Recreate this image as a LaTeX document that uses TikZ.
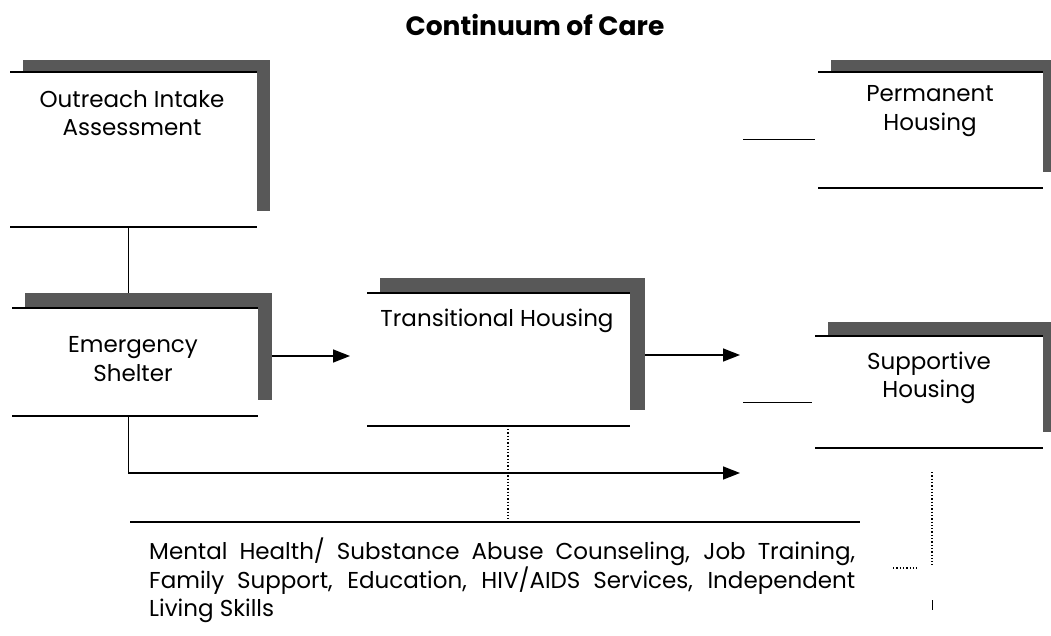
\documentclass[tikz,border=0pt]{standalone}
\usepackage{fontspec}
\setmainfont{Poppins}
\usetikzlibrary{arrows.meta}
\definecolor{shadow}{RGB}{88,88,88}
\tikzset{
  band/.style={fill=shadow},
  rule/.style={line width=1.4pt, black},
  conn/.style={line width=1pt, black},
  arr/.style={line width=1.6pt, -{Triangle[length=17pt,width=13pt]}},
  dots/.style={line width=1.3pt, dotted},
  lbl/.style={font=\fontsize{23}{28.5}\selectfont, align=center, inner sep=0},
  area/.style={inner sep=0, outer sep=0, anchor=north west},
}
% #1 name, #2 left x, #3 top of band, #4 right of band, #5 bottom rule, #6 band thickness, #7 right band width
\newcommand{\cocbox}[7]{%
  \fill[band] ({#2+13},#3) rectangle (#4,{#3+#6});
  \fill[band] ({#4-#7},#3) rectangle (#4,{#5-16});
  \draw[rule] (#2,{#3+#6}) -- ({#4-#7},{#3+#6});
  \draw[rule] (#2,#5) -- ({#4-#7},#5);
  \node[area, minimum width={(#4-#2)*1pt}, minimum height={(#5-#3)*1pt}] (#1) at (#2,#3) {};
}
\begin{document}
\begin{tikzpicture}[x=1pt,y=-1pt]
\useasboundingbox (0,0) rectangle (1051,636);
\clip (0,0) rectangle (1051,636);

\node[font=\bfseries\fontsize{26.5}{30}\selectfont, inner sep=0] (title) at (535,25) {Continuum of Care};

\cocbox{outreach}{10}{60}{270}{227}{12}{13}
\cocbox{emerg}{12}{293}{272}{416}{15}{14}
\cocbox{trans}{367}{278}{645}{426}{15}{15}
\cocbox{perm}{818}{60}{1060}{188}{12}{17}
\cocbox{supp}{815}{322}{1060}{448}{14}{17}

\node[lbl] (outreachT) at (132,113) {Outreach Intake\\Assessment};
\node[lbl] (emergT) at (133,359) {Emergency\\Shelter};
\node[lbl] (transT) at (497,321) {Transitional Housing};
\node[lbl] (permT) at (930,111) {Permanent\\Housing};
\node[lbl] (suppT) at (929,378) {Supportive\\Housing};

% connectors
\coordinate (v1) at (128,0);
\draw[conn] (outreach.south -| v1) -- (emerg.north -| v1);
\coordinate (t1) at (350,356);
\draw[arr] (emerg.east |- t1) -- (t1);
\coordinate (t2) at (740,355);
\draw[arr] (trans.east |- t2) -- (t2);
\coordinate (b1) at (128,473);
\coordinate (t3) at (740,473);
\draw[conn] (emerg.south -| b1) -- (b1);
\draw[arr] (b1) -- (t3);

\coordinate (p0) at (743,140);
\draw[conn] (p0) -- ([xshift=-3pt]perm.west |- p0);
\coordinate (s0) at (743,402);
\draw[conn] (s0) -- ([xshift=-3pt]supp.west |- s0);

% services
\coordinate (sl) at (130,522);
\coordinate (sr) at (860,522);
\draw[rule] (sl) -- (sr);
\coordinate (d1) at (508,520);
\draw[dots] ([yshift=-3pt]trans.south -| d1) -- (d1);
\node[anchor=north west, text width=706pt, align=justify, inner sep=0,
      font=\fontsize{23}{28.5}\selectfont] (svc) at (149,538)
  {Mental Health/ Substance Abuse Counseling, Job Training,\linebreak
   Family Support, Education, HIV/AIDS Services, Independent\linebreak
   Living Skills};

\coordinate (r1) at (932,472);
\coordinate (r2) at (932,565);
\draw[dots] (r1) -- (r2);
\coordinate (r3) at (893,568);
\coordinate (r4) at (918,568);
\draw[dots] (r3) -- (r4);
\coordinate (k1) at (932,600);
\coordinate (k2) at (932,610);
\draw[line width=0.8pt] (k1) -- (k2);
\end{tikzpicture}
\end{document}
